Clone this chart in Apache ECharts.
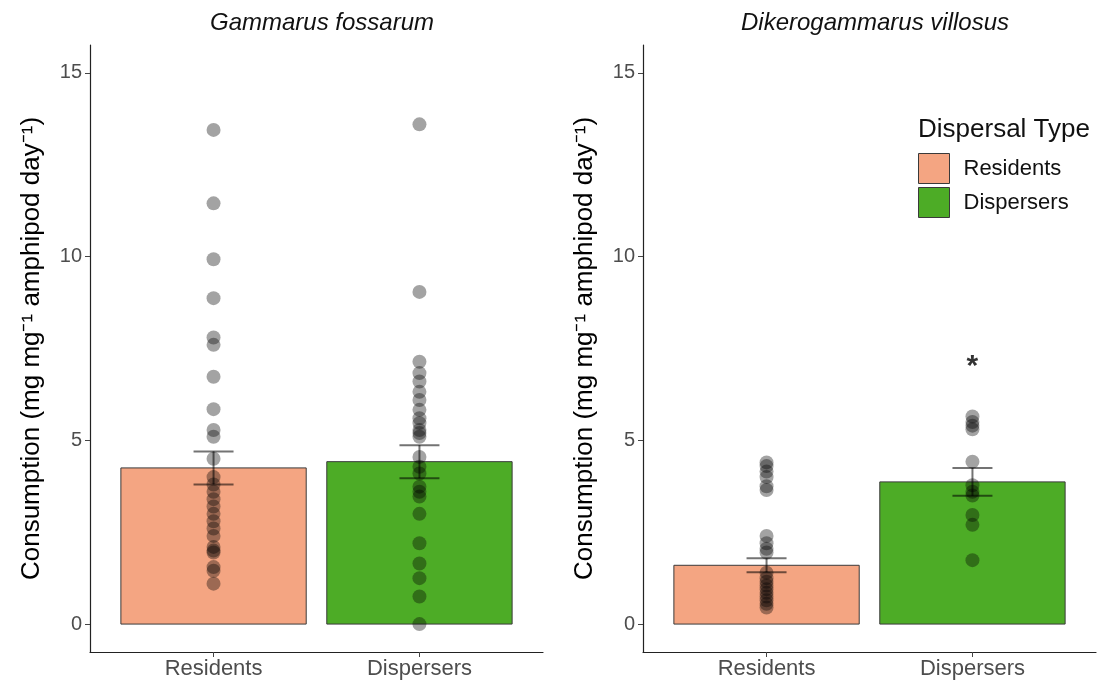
<!DOCTYPE html>
<html>
<head>
<meta charset="utf-8">
<title>Consumption by dispersal type</title>
<script src="https://cdn.jsdelivr.net/npm/echarts@6/dist/echarts.min.js"></script>
<style>
    html, body { margin: 0; padding: 0; background: #fff; }
    #main { width: 1103px; height: 688px; }
</style>
</head>
<body>
<div id="main"></div>
<script>
// categories
const groups = ['Residents', 'Dispersers']
const species = ['Gammarus fossarum', 'Dikerogammarus villosus']

// individual consumption values (mg mg-1 amphipod day-1)
const gfResidents = [13.45, 11.45, 9.93, 8.87, 7.8, 7.6, 6.73, 5.85, 5.28, 5.1, 4.5, 4.0, 3.8, 3.6, 3.4, 3.2, 3.0, 2.8, 2.6, 2.4, 2.1, 2.0, 1.95, 1.55, 1.45, 1.1]
const gfDispersers = [13.6, 9.04, 7.14, 6.83, 6.6, 6.32, 6.1, 5.83, 5.6, 5.47, 5.28, 5.2, 5.1, 4.55, 4.28, 4.1, 3.74, 3.6, 3.47, 3.0, 2.2, 1.65, 1.25, 0.75, 0.0]
const dvResidents = [4.4, 4.3, 4.15, 4.0, 3.75, 3.65, 2.4, 2.2, 2.05, 1.95, 1.4, 1.25, 1.15, 1.05, 0.95, 0.85, 0.75, 0.65, 0.55, 0.45]
const dvDispersers = [5.65, 5.5, 5.4, 5.3, 4.42, 3.78, 3.6, 3.5, 2.97, 2.7, 1.74]

// means and standard errors [Residents, Dispersers]
const gfMeans = [4.25, 4.42]
const gfSE = [0.45, 0.45]
const dvMeans = [1.6, 3.87]
const dvSE = [0.19, 0.38]

// significance marks: [group index (1-based), y]
const dvSig = [[2, 7.14]]

// y ticks
const yTicks = [0, 5, 10, 15]

const colors = ['#F4A582', '#4DAC26']
const font = 'Liberation Sans, Arial, Helvetica, sans-serif'
const yName = 'Consumption (mg mg\u207B\u00B9 amphipod day\u207B\u00B9)'

const chart = echarts.init(document.getElementById('main'))

// bar as custom series, width 0.9 of a category
function barRender(params, api) {
    const x = api.value(0)
    const y = api.value(1)
    const p1 = api.coord([x - 0.45, y])
    const p2 = api.coord([x + 0.45, 0])
    return {
        type: 'rect',
        shape: { x: p1[0], y: p1[1], width: p2[0] - p1[0], height: p2[1] - p1[1] },
        style: api.style({ stroke: '#3a3a3a', lineWidth: 1 })
    }
}

// error bar: mean +- se
function errRender(params, api) {
    const x = api.value(0)
    const lo = api.coord([x, api.value(1)])
    const hi = api.coord([x, api.value(2)])
    const half = 20
    const st = { stroke: 'rgba(0,0,0,0.55)', lineWidth: 2 }
    return {
        type: 'group',
        children: [
            { type: 'line', shape: { x1: lo[0], y1: lo[1], x2: hi[0], y2: hi[1] }, style: st },
            { type: 'line', shape: { x1: lo[0] - half, y1: lo[1], x2: lo[0] + half, y2: lo[1] }, style: st },
            { type: 'line', shape: { x1: hi[0] - half, y1: hi[1], x2: hi[0] + half, y2: hi[1] }, style: st }
        ]
    }
}

const toPoints = (arr, g) => arr.map(v => [g, v])
const errData = (means, se) => means.map((m, i) => [i + 1, m - se[i], m + se[i]])

function panelSeries(idx, means, se, res, dis) {
    const out = []
    groups.forEach((g, i) => {
        out.push({
            name: g,
            type: 'custom',
            xAxisIndex: idx,
            yAxisIndex: idx,
            z: 1,
            itemStyle: { color: colors[i] },
            renderItem: barRender,
            data: [[i + 1, means[i]]]
        })
    })
    out.push({
        type: 'scatter',
        xAxisIndex: idx,
        yAxisIndex: idx,
        z: 2,
        symbolSize: 14,
        itemStyle: { color: 'rgba(0,0,0,0.45)' },
        data: toPoints(res, 1).concat(toPoints(dis, 2))
    })
    out.push({
        type: 'custom',
        xAxisIndex: idx,
        yAxisIndex: idx,
        z: 3,
        renderItem: errRender,
        data: errData(means, se)
    })
    return out
}

function xAxisCfg(idx) {
    return {
        type: 'value',
        gridIndex: idx,
        min: 0.4,
        max: 2.6,
        splitLine: { show: false },
        axisLine: { show: true, onZero: false, lineStyle: { color: '#222', width: 1.2 } },
        axisTick: { show: true, length: 5, customValues: [1, 2], lineStyle: { color: '#444' } },
        axisLabel: {
            customValues: [1, 2],
            formatter: v => groups[Math.round(v) - 1],
            color: '#4d4d4d',
            fontSize: 22,
            fontFamily: font,
            margin: 6
        }
    }
}

function yAxisCfg(idx) {
    return {
        type: 'value',
        gridIndex: idx,
        min: -0.76,
        max: 15.76,
        splitLine: { show: false },
        axisLine: { show: true, lineStyle: { color: '#222', width: 1.2 } },
        axisTick: { show: true, length: 5, customValues: yTicks, lineStyle: { color: '#444' } },
        axisLabel: { customValues: yTicks, color: '#4d4d4d', fontSize: 20, fontFamily: font, margin: 8 },
        name: yName,
        nameLocation: 'middle',
        nameRotate: 90,
        nameGap: 45,
        nameTextStyle: { color: '#000', fontSize: 26, fontFamily: font }
    }
}

const option = {
    backgroundColor: '#fff',
    animation: false,
    title: [
        {
            text: species[0], left: 317, top: 6, textAlign: 'center',
            textStyle: { fontStyle: 'italic', fontWeight: 'normal', fontSize: 24, color: '#111', fontFamily: font }
        },
        {
            text: species[1], left: 870, top: 6, textAlign: 'center',
            textStyle: { fontStyle: 'italic', fontWeight: 'normal', fontSize: 24, color: '#111', fontFamily: font }
        },
        {
            text: 'Dispersal Type', left: 913, top: 112,
            textStyle: { fontWeight: 'normal', fontSize: 26, color: '#111', fontFamily: font }
        }
    ],
    legend: {
        left: 913,
        top: 148,
        orient: 'vertical',
        itemWidth: 31,
        itemHeight: 30,
        itemGap: 3,
        icon: 'rect',
        selectedMode: false,
        textStyle: { fontSize: 22, color: '#111', fontFamily: font, padding: [0, 0, 0, 9] },
        data: groups.map((g, i) => ({ name: g, itemStyle: { color: colors[i], borderColor: '#3a3a3a', borderWidth: 1 } }))
    },
    grid: [
        { left: 90, top: 45, width: 453, height: 607 },
        { left: 643, top: 45, width: 453, height: 607 }
    ],
    xAxis: [xAxisCfg(0), xAxisCfg(1)],
    yAxis: [yAxisCfg(0), yAxisCfg(1)],
    series: panelSeries(0, gfMeans, gfSE, gfResidents, gfDispersers)
        .concat(panelSeries(1, dvMeans, dvSE, dvResidents, dvDispersers))
        .concat([{
            type: 'scatter',
            xAxisIndex: 1,
            yAxisIndex: 1,
            z: 4,
            symbolSize: 1,
            itemStyle: { color: 'rgba(0,0,0,0)' },
            label: {
                show: true,
                position: 'inside',
                formatter: '*',
                fontSize: 30,
                fontWeight: 'bold',
                color: '#000',
                offset: [0, 5]
            },
            data: dvSig
        }])
}

chart.setOption(option)
</script>
</body>
</html>
